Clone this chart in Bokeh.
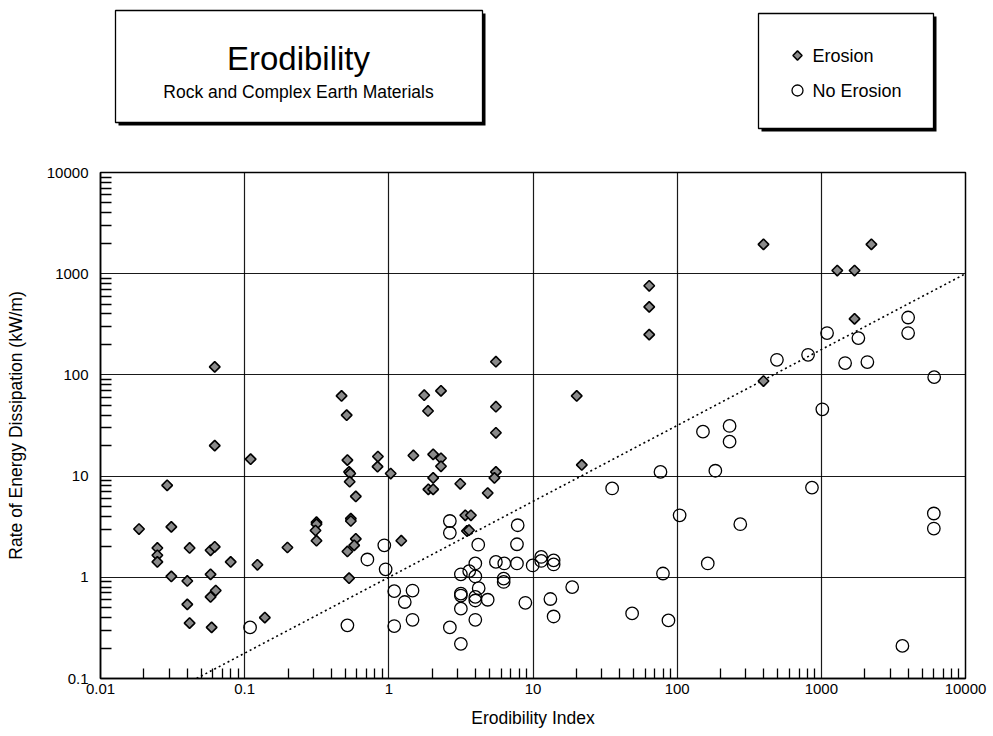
import math
from bokeh.plotting import figure
from bokeh.layouts import column
from bokeh.models import Range1d, FixedTicker
from bokeh.core.properties import value
from bokeh.embed import file_html
from bokeh.resources import INLINE

# ---------------- data ----------------
erosion_x = [0.0185, 0.029, 0.031, 0.0248, 0.0248, 0.0248, 0.031, 0.0415, 0.040, 0.040,
             0.0415, 0.058, 0.062, 0.058, 0.063, 0.058, 0.059, 0.080, 0.062, 0.062,
             0.110, 0.1226, 0.138, 0.198, 0.315, 0.315, 0.31, 0.315, 0.47, 0.51,
             0.516, 0.53, 0.54, 0.535, 0.59, 0.545, 0.545, 0.59, 0.575, 0.516,
             0.53, 0.84, 0.835, 1.03, 1.22, 1.48, 1.76, 2.30, 1.87, 2.03,
             2.3, 2.3, 2.03, 1.88, 2.03, 3.13, 4.85, 5.53, 5.53, 5.53,
             5.53, 5.4, 3.39, 3.71, 3.48, 3.6, 20.1, 21.8, 64, 64,
             64, 397, 2225, 1290, 1700, 1700, 397]
erosion_y = [3.0, 8.1, 3.15, 1.95, 1.65, 1.42, 1.02, 1.95, 0.92, 0.54,
             0.353, 1.85, 2.0, 1.07, 0.74, 0.64, 0.32, 1.42, 20, 120,
             14.7, 1.33, 0.40, 1.97, 3.5, 3.35, 2.9, 2.3, 62, 40,
             14.4, 11.0, 10.6, 8.8, 6.3, 3.8, 3.6, 2.4, 2.07, 1.8,
             0.98, 15.6, 12.4, 10.6, 2.3, 16, 63, 69.6, 44, 16.4,
             15, 12.5, 9.6, 7.4, 7.4, 8.4, 6.8, 135, 48.5, 26.8,
             11, 9.6, 4.1, 4.1, 2.87, 2.92, 62, 12.9, 760, 470,
             250, 1950, 1950, 1075, 1075, 358, 87]

no_erosion_x = [0.109, 0.516, 0.71, 0.93, 0.95, 2.65, 2.65, 7.83, 7.74, 4.17,
                3.98, 5.53, 6.32, 7.74, 9.95, 11.4, 11.4, 13.9, 13.9, 3.16,
                3.61, 3.98, 6.26, 6.26, 79.7, 1.09, 1.46, 1.29, 1.09, 1.46,
                3.16, 3.16, 4.2, 3.98, 3.98, 4.85, 3.16, 3.98, 2.65, 3.16,
                8.85, 13.2, 13.9, 18.7, 48.7, 87, 104, 76.6, 35.4, 1096,
                1807, 4000, 4000, 809, 492, 1462, 2086, 6064, 1016, 151,
                231, 231, 184, 861, 274, 6030, 6030, 163, 3650]
no_erosion_y = [0.32, 0.335, 1.5, 2.07, 1.2, 3.6, 2.75, 3.27, 2.12, 2.1,
                1.37, 1.42, 1.37, 1.37, 1.31, 1.59, 1.45, 1.47, 1.34, 1.07,
                1.15, 1.02, 0.97, 0.90, 1.09, 0.73, 0.74, 0.57, 0.33, 0.38,
                0.69, 0.66, 0.78, 0.64, 0.59, 0.6, 0.49, 0.38, 0.32, 0.22,
                0.56, 0.61, 0.41, 0.80, 0.44, 0.375, 4.1, 11, 7.55, 259,
                231, 369, 259, 158, 141, 131, 134, 95, 45.7, 27.5,
                31.3, 21.9, 11.3, 7.7, 3.35, 4.27, 3.03, 1.37, 0.21]

threshold_x = [0.0464, 10000]
threshold_y = [0.1, 1000]

x_ticks = [0.01, 0.1, 1, 10, 100, 1000, 10000]
x_tick_labels = ["0.01", "0.1", "1", "10", "100", "1000", "10000"]
y_ticks = [0.1, 1, 10, 100, 1000, 10000]
y_tick_labels = ["0.1", "1", "10", "100", "1000", "10000"]

title_text = "Erodibility"
subtitle_text = "Rock and Complex Earth Materials"
legend_labels = ["Erosion", "No Erosion"]
x_label = "Erodibility Index"
y_label = "Rate of Energy Dissipation (kW/m)"

FONT = "Liberation Sans"
W = 990
BL, BR = 100, 25          # left / right borders shared by both figures
TOP_H = 158
MAIN_H = 576

# ---------------- header figure (title box + legend box) ----------------
# data coordinates = page pixels: x to the right, y downward
h = figure(width=W, height=TOP_H, x_range=Range1d(BL, W - BR), y_range=Range1d(TOP_H, 0),
           output_backend="svg", toolbar_location=None,
           x_axis_location=None, y_axis_location=None,
           min_border_left=BL, min_border_right=BR,
           min_border_top=0, min_border_bottom=0)
h.outline_line_color = None
h.xgrid.visible = False
h.ygrid.visible = False

# title box with drop shadow
h.quad(left=[118], right=[485], top=[13], bottom=[125], fill_color="black", line_color=None)
h.quad(left=[115], right=[482], top=[10], bottom=[122], fill_color="white",
       line_color="black", line_width=1.3)
h.text(x=[298], y=[58], text=[title_text], text_align="center", text_baseline="middle",
       text_font=value(FONT), text_font_size="33px", text_color="black")
h.text(x=[298], y=[91], text=[subtitle_text], text_align="center", text_baseline="middle",
       text_font=value(FONT), text_font_size="17.5px", text_color="black")

# legend box with drop shadow
h.quad(left=[761], right=[936], top=[16], bottom=[131], fill_color="black", line_color=None)
h.quad(left=[758], right=[933], top=[13], bottom=[128], fill_color="white",
       line_color="black", line_width=1.3)
h.scatter(x=[797], y=[55], marker="square", angle=math.pi / 4, size=6.5,
          fill_color="#8a8a8a", line_color="black", line_width=1.5)
h.scatter(x=[797], y=[90], marker="circle", size=11,
          fill_color=None, line_color="black", line_width=1.3)
h.text(x=[812, 812], y=[55, 90], text=legend_labels, text_align="left", text_baseline="middle",
       text_font=value(FONT), text_font_size="18px", text_color="black")

# ---------------- main figure ----------------
p = figure(width=W, height=MAIN_H,
           x_axis_type="log", y_axis_type="log",
           x_range=Range1d(0.01, 10000), y_range=Range1d(0.1, 10000),
           output_backend="svg", toolbar_location=None,
           min_border_left=BL, min_border_right=BR,
           min_border_top=14, min_border_bottom=56,
           background_fill_color="white", border_fill_color="white")
p.outline_line_color = "black"
p.outline_line_width = 1.5

x_minor = [m * 10.0 ** e for e in range(-2, 4) for m in range(2, 10)]
y_minor = [m * 10.0 ** e for e in range(-1, 4) for m in range(2, 10)]
p.xaxis.ticker = FixedTicker(ticks=x_ticks, minor_ticks=x_minor)
p.yaxis.ticker = FixedTicker(ticks=y_ticks, minor_ticks=y_minor)
p.xaxis.major_label_overrides = {t: l for t, l in zip(x_ticks, x_tick_labels)}
p.yaxis.major_label_overrides = {t: l for t, l in zip(y_ticks, y_tick_labels)}

for ax in (p.xaxis, p.yaxis):
    ax.axis_line_color = "black"
    ax.axis_line_width = 1.5
    ax.major_tick_in = 0
    ax.major_tick_out = 0
    ax.minor_tick_out = 0
    ax.minor_tick_line_color = "black"
    ax.minor_tick_line_width = 1.3
    ax.major_label_text_font = FONT
    ax.major_label_text_font_size = "15px"
    ax.major_label_text_color = "black"
    ax.axis_label_text_font = FONT
    ax.axis_label_text_font_size = "17.5px"
    ax.axis_label_text_font_style = "normal"
    ax.axis_label_text_color = "black"

p.xaxis.minor_tick_in = 10
p.yaxis.minor_tick_in = 11
p.xaxis.major_label_standoff = 5
p.yaxis.major_label_standoff = 12
p.xaxis.axis_label = x_label
p.yaxis.axis_label = y_label
p.xaxis.axis_label_standoff = 11
p.yaxis.axis_label_standoff = 18

for g in (p.xgrid, p.ygrid):
    g.grid_line_color = "black"
    g.grid_line_width = 1.2
    g.grid_line_alpha = 0.9

# threshold line
p.line(threshold_x, threshold_y, line_color="black", line_width=1.6, line_dash="2 3")

# markers
p.scatter(no_erosion_x, no_erosion_y, marker="circle", size=12.5,
          fill_color=None, line_color="black", line_width=1.3)
p.scatter(erosion_x, erosion_y, marker="square", angle=math.pi / 4, size=7.5,
          fill_color="#8a8a8a", line_color="black", line_width=1.6)

layout = column(h, p, spacing=0)
open("out.html", "w").write(file_html(layout, INLINE))
